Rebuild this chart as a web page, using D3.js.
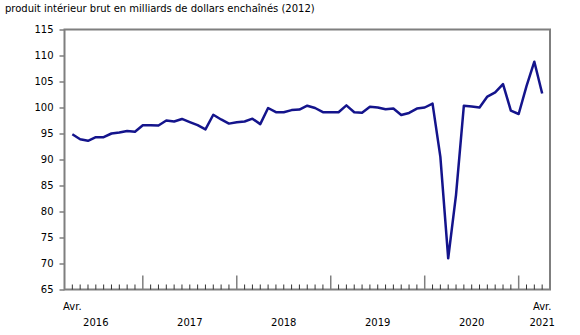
<!DOCTYPE html>
<html>
<head>
<meta charset="utf-8">
<script src="https://cdn.jsdelivr.net/npm/d3@7"></script>
<style>
  body { margin: 0; background: #fff; }
  text { font-family: "DejaVu Sans", Verdana, sans-serif; font-size: 10px; fill: #000; }
</style>
</head>
<body>
<svg id="chart"></svg>
<script>
// 1) Data ------------------------------------------------------------
const startYear = 2016;
const startMonth = 3; // April (0-based)
const values = [
  94.85, 93.9, 93.6, 94.3, 94.3, 95.0, 95.2, 95.5, 95.35,
  96.6, 96.6, 96.55, 97.5, 97.3, 97.8, 97.2, 96.6, 95.8, 98.6, 97.7, 96.9,
  97.15, 97.3, 97.85, 96.8, 99.9, 99.1, 99.1, 99.5, 99.6, 100.35, 99.9, 99.1,
  99.1, 99.1, 100.4, 99.1, 99.0, 100.15, 100.0, 99.65, 99.8, 98.55, 98.95, 99.8,
  100.0, 100.75, 90.5, 71.0, 83.2, 100.35, 100.2, 100.0, 102.1, 102.9, 104.5, 99.4,
  98.75, 104.1, 108.8, 102.7
];
const yTicks = [65, 70, 75, 80, 85, 90, 95, 100, 105, 110, 115];
const years = [2016, 2017, 2018, 2019, 2020, 2021];
const monthLabel = 'Avr.';
const title = 'produit intérieur brut en milliards de dollars enchaînés (2012)';

const months = values.map((v, i) => ({
  date: new Date(startYear, startMonth + i, 1),
  value: v,
  i: i
}));

// 2) Dimensions ------------------------------------------------------
const width = 580, height = 335;
const margin = { top: 29.5, right: 30, bottom: 45.5, left: 64.5 };
const svg = d3.select('#chart').attr('width', width).attr('height', height);

const x = d3.scalePoint()
  .domain(months.map(d => d.i))
  .range([margin.left, width - margin.right])
  .padding(1);

const y = d3.scaleLinear()
  .domain([65, 115])
  .range([height - margin.bottom, margin.top]);

const axisColor = '#7f7f7f';

// 3) Title -----------------------------------------------------------
svg.append('text')
  .attr('x', 5)
  .attr('y', 12)
  .text(title);

// 4) Frame + Y axis --------------------------------------------------
const x0 = margin.left, x1 = width - margin.right;
const y0 = y(65), y1 = y(115);

svg.append('g')
  .attr('transform', `translate(${x0},0)`)
  .call(d3.axisLeft(y).tickValues(yTicks).tickSize(5).tickPadding(6))
  .call(g => g.select('.domain').remove())
  .call(g => g.selectAll('line').attr('stroke', axisColor).attr('stroke-width', 1.5))
  .call(g => g.selectAll('text').style('font-size', '10px').attr('fill', '#000'));

svg.append('rect')
  .attr('x', x0)
  .attr('y', y1)
  .attr('width', x1 - x0)
  .attr('height', y0 - y1)
  .attr('fill', 'none')
  .attr('stroke', axisColor)
  .attr('stroke-width', 2);

// 5) X ticks ---------------------------------------------------------
svg.append('g')
  .selectAll('line')
  .data(months)
  .enter().append('line')
  .attr('x1', d => x(d.i))
  .attr('x2', d => x(d.i))
  .attr('y1', y0)
  .attr('y2', d => d.date.getMonth() === 0 ? y0 - 14 : y0 - 5)
  .attr('stroke', d => d.date.getMonth() === 0 ? axisColor : '#333')
  .attr('stroke-width', d => d.date.getMonth() === 0 ? 1.5 : 1);

// 6) X labels --------------------------------------------------------
const step = x.step();
const first = months[0], last = months[months.length - 1];

svg.append('text')
  .attr('x', x(first.i))
  .attr('y', y0 + 20)
  .attr('text-anchor', 'middle')
  .text(monthLabel);

svg.append('text')
  .attr('x', x(last.i))
  .attr('y', y0 + 20)
  .attr('text-anchor', 'middle')
  .text(monthLabel);

svg.append('g')
  .selectAll('text')
  .data(years)
  .enter().append('text')
  .attr('x', yr => {
    if (yr === last.date.getFullYear()) return x(last.i);
    // middle of the calendar year (July)
    const idx = (yr - startYear) * 12 - startMonth + 6;
    return x(0) + idx * step;
  })
  .attr('y', y0 + 36)
  .attr('text-anchor', 'middle')
  .text(yr => yr);

// 7) Line ------------------------------------------------------------
const line = d3.line()
  .x(d => x(d.i))
  .y(d => y(d.value));

svg.append('path')
  .datum(months)
  .attr('d', line)
  .attr('fill', 'none')
  .attr('stroke', '#14148c')
  .attr('stroke-width', 2.5)
  .attr('stroke-linejoin', 'round');
</script>
</body>
</html>
